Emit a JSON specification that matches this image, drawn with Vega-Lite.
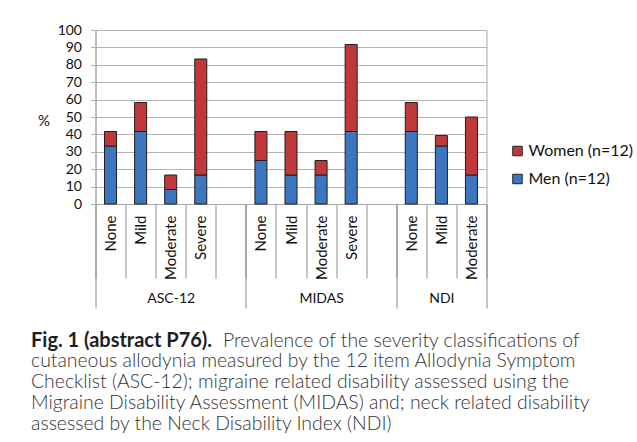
{
  "$schema": "https://vega.github.io/schema/vega-lite/v6.json",
  "width": 391,
  "height": 174,
  "autosize": {"type": "none"},
  "padding": {"left": 95.5, "top": 30, "right": 150.5, "bottom": 238},
  "background": "white",
  "config": {"view": {"stroke": "#a6a6a6", "strokeWidth": 1}, "font": "Lato"},
  "data": {"values": [
    {"slot": "ASC-12|None", "sex": "Men (n=12)", "pct": 33.33},
    {"slot": "ASC-12|None", "sex": "Women (n=12)", "pct": 8.33},
    {"slot": "ASC-12|Mild", "sex": "Men (n=12)", "pct": 41.67},
    {"slot": "ASC-12|Mild", "sex": "Women (n=12)", "pct": 16.67},
    {"slot": "ASC-12|Moderate", "sex": "Men (n=12)", "pct": 8.33},
    {"slot": "ASC-12|Moderate", "sex": "Women (n=12)", "pct": 8.33},
    {"slot": "ASC-12|Severe", "sex": "Men (n=12)", "pct": 16.67},
    {"slot": "ASC-12|Severe", "sex": "Women (n=12)", "pct": 66.67},
    {"slot": "MIDAS|None", "sex": "Men (n=12)", "pct": 25},
    {"slot": "MIDAS|None", "sex": "Women (n=12)", "pct": 16.67},
    {"slot": "MIDAS|Mild", "sex": "Men (n=12)", "pct": 16.67},
    {"slot": "MIDAS|Mild", "sex": "Women (n=12)", "pct": 25},
    {"slot": "MIDAS|Moderate", "sex": "Men (n=12)", "pct": 16.67},
    {"slot": "MIDAS|Moderate", "sex": "Women (n=12)", "pct": 8.33},
    {"slot": "MIDAS|Severe", "sex": "Men (n=12)", "pct": 41.67},
    {"slot": "MIDAS|Severe", "sex": "Women (n=12)", "pct": 50},
    {"slot": "NDI|None", "sex": "Men (n=12)", "pct": 41.67},
    {"slot": "NDI|None", "sex": "Women (n=12)", "pct": 16.67},
    {"slot": "NDI|Mild", "sex": "Men (n=12)", "pct": 33.33},
    {"slot": "NDI|Mild", "sex": "Women (n=12)", "pct": 6},
    {"slot": "NDI|Moderate", "sex": "Men (n=12)", "pct": 16.67},
    {"slot": "NDI|Moderate", "sex": "Women (n=12)", "pct": 33.33}
  ]},
  "layer": [
    {
      "mark": {"type": "bar", "width": {"band": 0.4}, "stroke": "#1e1e1e", "strokeWidth": 1},
      "encoding": {
        "x": {
          "field": "slot", "type": "nominal", "sort": null,
          "scale": {"domain": ["ASC-12|None", "ASC-12|Mild", "ASC-12|Moderate", "ASC-12|Severe", "ASC-12|", "MIDAS|None", "MIDAS|Mild", "MIDAS|Moderate", "MIDAS|Severe", "MIDAS|", "NDI|None", "NDI|Mild", "NDI|Moderate"], "paddingInner": 0, "paddingOuter": 0},
          "axis": {
            "orient": "bottom", "labelAngle": 270, "labelAlign": "right", "labelBaseline": "middle",
            "labelExpr": "split(datum.label, '|')[1]",
            "labelFontSize": 15, "labelColor": "#111111", "labelPadding": -63,
            "tickBand": "extent", "tickSize": 74, "tickColor": "#8c8c8c", "domainColor": "#a6a6a6", "grid": false,
            "title": ["cutaneous allodynia measured by the 12 item Allodynia Symptom", "Checklist (ASC-12); migraine related disability assessed using the", "Migraine Disability Assessment (MIDAS) and; neck related disability", "assessed by the Neck Disability Index (NDI)"],
            "titleX": -65, "titleY": 162.7, "titleAlign": "left", "titleBaseline": "alphabetic", "titleAngle": 0,
            "titleFont": "Lato", "titleFontSize": 19.4, "titleFontWeight": 300, "titleColor": "#333333", "titleLineHeight": 20.8
          }
        },
        "y": {
          "field": "pct", "type": "quantitative", "stack": "zero",
          "scale": {"domain": [0, 100], "nice": false},
          "axis": {
            "values": [0, 10, 20, 30, 40, 50, 60, 70, 80, 90, 100],
            "title": "%", "titleAngle": 0, "titleX": -52, "titleY": 90, "titleAlign": "center", "titleBaseline": "middle",
            "titleFontSize": 15, "titleFontWeight": "normal", "titleColor": "#111111",
            "gridColor": "#b4b4b4", "tickColor": "#b4b4b4", "tickSize": 5, "labelPadding": 9,
            "labelFontSize": 14, "labelColor": "#111111", "domainColor": "#a6a6a6"
          }
        },
        "color": {
          "field": "sex", "type": "nominal",
          "scale": {"domain": ["Women (n=12)", "Men (n=12)"], "range": ["#c0393a", "#3c76bf"]},
          "legend": {
            "orient": "none", "legendX": 414, "legendY": 113, "title": null,
            "labelFontSize": 16, "labelColor": "#111111", "symbolType": "square", "symbolSize": 90,
            "symbolStrokeColor": "#222222", "symbolStrokeWidth": 1, "rowPadding": 12, "labelOffset": 3
          }
        },
        "order": {"field": "sex", "sort": "ascending"}
      }
    },
    {
      "mark": {"type": "point", "opacity": 0},
      "encoding": {
        "x": {
          "datum": 0, "type": "quantitative",
          "scale": {"domain": [0, 13], "nice": false},
          "axis": {
            "orient": "bottom", "values": [0, 5, 10, 13], "labels": false, "tickSize": 104, "tickColor": "#8c8c8c",
            "domain": false, "grid": false,
            "title": "Fig. 1 (abstract P76).", "titleX": -65, "titleY": 142, "titleAlign": "left", "titleBaseline": "alphabetic",
            "titleFont": "Lato", "titleFontSize": 20, "titleFontWeight": "bold", "titleColor": "#1e1e1e"
          }
        }
      }
    },
    {
      "mark": {"type": "point", "opacity": 0},
      "encoding": {
        "x": {
          "datum": 0, "type": "quantitative",
          "scale": {"domain": [0, 13], "nice": false},
          "axis": {
            "orient": "bottom", "values": [2.5, 7.5, 11.5], "ticks": false, "domain": false, "grid": false,
            "labelExpr": "datum.value == 2.5 ? 'ASC-12' : datum.value == 7.5 ? 'MIDAS' : 'NDI'",
            "labelFontSize": 14, "labelColor": "#111111", "labelPadding": 87, "labelFlush": false,
            "title": "Prevalence of the severity classifications of", "titleX": 127, "titleY": 142, "titleAlign": "left", "titleBaseline": "alphabetic",
            "titleFont": "Lato", "titleFontSize": 19.4, "titleFontWeight": 300, "titleColor": "#333333"
          }
        }
      }
    }
  ],
  "resolve": {"scale": {"x": "independent"}, "axis": {"x": "independent"}}
}
